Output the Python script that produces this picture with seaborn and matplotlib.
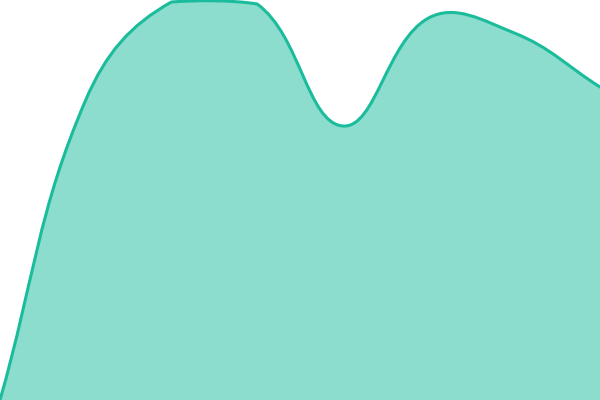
import numpy as np
import matplotlib
matplotlib.use("Agg")
import matplotlib.pyplot as plt
from matplotlib.path import Path
from matplotlib.patches import PathPatch
import seaborn as sns

# values (chart area is 0..400 high)
labels = ["1", "2", "3", "4", "5", "6", "7", "8"]
values = [0, 300, 398, 396, 274, 382, 367, 313]
y_max = 400
tension = 0.4
line_color = "#1abc9c"

sns.set_theme(style="white")

fig = plt.figure(figsize=(6, 4), dpi=100)
ax = fig.add_axes([0, 0, 1, 1])
xs = np.arange(len(values))
ax.set_xlim(0, len(values) - 1)
ax.set_ylim(0, y_max)
ax.axis("off")

# smooth curve like a tensioned spline, control points kept inside the area
pts = ax.transData.transform(np.column_stack([xs, values]))
bb = ax.bbox
n = len(pts)
cp_prev = np.zeros_like(pts)
cp_next = np.zeros_like(pts)
for i in range(n):
    prev = pts[max(i - 1, 0)]
    cur = pts[i]
    nxt = pts[min(i + 1, n - 1)]
    d01 = np.hypot(*(cur - prev))
    d12 = np.hypot(*(nxt - cur))
    tot = d01 + d12
    s01 = d01 / tot if tot else 0
    s12 = d12 / tot if tot else 0
    cp_prev[i] = cur - tension * s01 * (nxt - prev)
    cp_next[i] = cur + tension * s12 * (nxt - prev)
for cp in (cp_prev, cp_next):
    cp[:, 0] = np.clip(cp[:, 0], bb.x0, bb.x1)
    cp[:, 1] = np.clip(cp[:, 1], bb.y0, bb.y1)

verts = [pts[0]]
codes = [Path.MOVETO]
for i in range(n - 1):
    verts += [cp_next[i], cp_prev[i + 1], pts[i + 1]]
    codes += [Path.CURVE4] * 3
inv = ax.transData.inverted()
line_verts = inv.transform(np.array(verts))

fill_verts = np.vstack([line_verts, [[xs[-1], 0], [xs[0], 0], [xs[0], 0]]])
fill_codes = codes + [Path.LINETO, Path.LINETO, Path.CLOSEPOLY]

ax.add_patch(PathPatch(Path(fill_verts, fill_codes), facecolor=line_color,
                       alpha=0.5, edgecolor="none"))
ax.add_patch(PathPatch(Path(line_verts, codes), facecolor="none",
                       edgecolor=line_color, lw=2.2, capstyle="round",
                       joinstyle="round"))

fig.savefig("out.png", dpi=100)
